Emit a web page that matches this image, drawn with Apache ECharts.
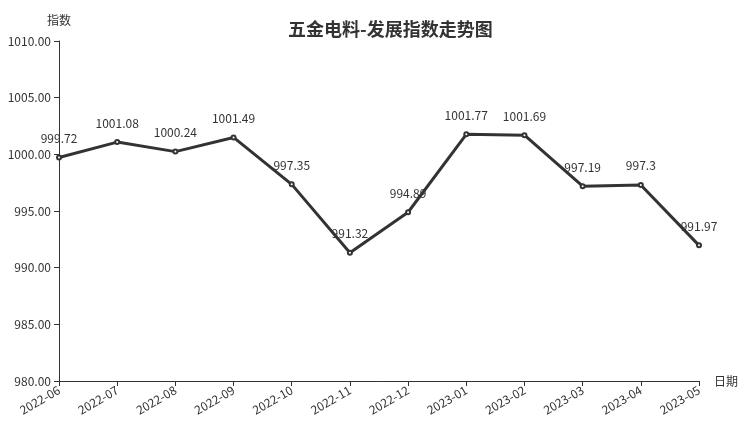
<!DOCTYPE html>
<html><head><meta charset="utf-8">
<script src="https://cdn.jsdelivr.net/npm/echarts@6/dist/echarts.min.js"></script>
<style>html,body{margin:0;padding:0;background:#fff}#c{width:752px;height:427px}</style>
</head><body><div id="c"></div>
<script>
const categories = ['2022-06','2022-07','2022-08','2022-09','2022-10','2022-11','2022-12','2023-01','2023-02','2023-03','2023-04','2023-05'];
const values = [999.72,1001.08,1000.24,1001.49,997.35,991.32,994.89,1001.77,1001.69,997.19,997.3,991.97];
const labels = ['999.72','1001.08','1000.24','1001.49','997.35','991.32','994.89','1001.77','1001.69','997.19','997.3','991.97'];
const font = '"Noto Sans CJK SC", "Noto Sans", sans-serif';
const chart = echarts.init(document.getElementById('c'));
chart.setOption({
  animation:false,
  textStyle:{fontFamily:font},
  title:{text:'五金电料-发展指数走势图',left:283,top:15,textStyle:{fontSize:18,fontWeight:'bold',color:'#333',fontFamily:font}},
  grid:{left:59,right:53,top:41,bottom:46},
  xAxis:{type:'category',data:categories,boundaryGap:false,name:'日期',nameGap:15,
    nameTextStyle:{fontSize:12,color:'#333'},
    axisLine:{lineStyle:{color:'#333'}},axisTick:{alignWithLabel:true,lineStyle:{color:'#333'}},
    axisLabel:{rotate:30,color:'#333',fontSize:12,interval:0,margin:8}},
  yAxis:{type:'value',min:980,max:1010,interval:5,name:'指数',nameGap:15,
    nameTextStyle:{fontSize:12,color:'#333',align:'center',padding:[0,0,0,0]},
    axisLine:{show:true,lineStyle:{color:'#333'}},axisTick:{show:true,lineStyle:{color:'#333'}},
    splitLine:{show:false},
    axisLabel:{color:'#333',fontSize:12,formatter:v=>v.toFixed(2)}},
  series:[{type:'line',data:values,symbol:'emptyCircle',symbolSize:4,
    lineStyle:{color:'#333',width:3},itemStyle:{color:'#333',borderWidth:1},
    label:{show:true,position:'top',distance:10,color:'#333',fontSize:12,formatter:p=>labels[p.dataIndex]}}]
});
</script></body></html>
